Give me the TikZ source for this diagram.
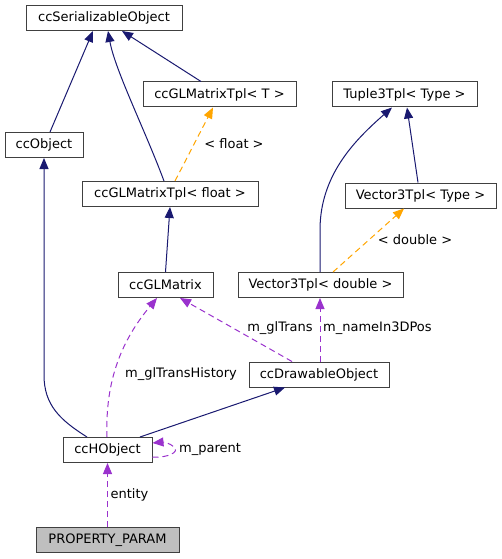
\documentclass[tikz,border=0pt]{standalone}
\usepackage{fontspec}
\setmainfont{DejaVu Sans}
\usetikzlibrary{arrows.meta,calc}
\definecolor{navy}{HTML}{191970}
\definecolor{orng}{HTML}{FFA500}
\definecolor{purp}{HTML}{9A32CD}
\definecolor{bord}{HTML}{404040}
\begin{document}
\begin{tikzpicture}[x=1pt,y=-1pt,
  font=\fontsize{13}{15}\selectfont,
  box/.style={draw=bord,line width=1pt,fill=white,inner sep=0pt,minimum height=25pt},
  inh/.style={draw=navy,line width=1pt,-{Triangle[length=11pt,width=9pt]}},
  tpl/.style={draw=orng,line width=1pt,dash pattern=on 6pt off 4pt,-{Triangle[length=11pt,width=9pt]}},
  use/.style={draw=purp,line width=1pt,dash pattern=on 6pt off 4pt,-{Triangle[length=11pt,width=9pt]}},
  lbl/.style={inner sep=0pt}]
\useasboundingbox (0,0) rectangle (501,559);
\node[box,minimum width=156pt] (ser) at (104,18) {ccSerializableObject};
\node[box,minimum width=153pt] (tplT) at (219.5,94.5) {ccGLMatrixTpl< T >};
\node[box,minimum width=145pt] (tuple) at (404.5,94.5) {Tuple3Tpl< Type >};
\node[box,minimum width=78pt] (obj) at (44,145) {ccObject};
\node[box,minimum width=176pt] (tplF) at (170,194) {ccGLMatrixTpl< float >};
\node[box,minimum width=151pt] (vecT) at (420.5,195.5) {Vector3Tpl< Type >};
\node[box,minimum width=95pt] (glm) at (165.5,285) {ccGLMatrix};
\node[box,minimum width=165pt] (vecD) at (320.5,285) {Vector3Tpl< double >};
\node[box,minimum width=140pt] (drw) at (319,374.5) {ccDrawableObject};
\node[box,minimum width=89pt] (hobj) at (107.5,450) {ccHObject};
\node[box,minimum width=143pt,fill={rgb,255:red,191;green,191;blue,191}] (prop) at (107.5,540) {PROPERTY\_PARAM};

% inheritance
\draw[inh] ($(obj.north)+(6,0)$) -- ($(ser.south)+(-11,0)$);
\draw[inh] ($(tplF.north)+(-6,0)$) .. controls (145,130) and (115,70) .. ($(ser.south)+(4,0)$);
\draw[inh] ($(tplT.north)+(-18.5,0)$) -- ($(ser.south)+(18,0)$);
\draw[inh] (glm.north) -- (tplF.south);
\draw[inh] ($(vecD.north)+(-0.5,0)$) -- (320,230) .. controls (320,175) and (355,140) .. ($(tuple.south)+(-12.5,0)$);
\draw[inh] ($(vecT.north)+(-2.5,0)$) -- ($(tuple.south)+(2.5,0)$);
\draw[inh] ($(hobj.north)+(32.5,0)$) -- ($(drw.south)+(-34,0)$);
\draw[inh] ($(hobj.north)+(-20.5,0)$) .. controls (60,420) and (44,405) .. (44,375) -- (obj.south);

% templates
\draw[tpl] ($(tplF.north)+(5,0)$) -- ($(tplT.south)+(-6.5,0)$);
\node[lbl] (lf) at (234,144) {< float >};
\draw[tpl] ($(vecD.north)+(12.5,0)$) -- ($(vecT.south)+(-16.5,0)$);
\node[lbl] (ld) at (415,240) {< double >};

% usage
\draw[use] ($(drw.north)+(-27,0)$) -- ($(glm.south)+(14.5,0)$);
\node[lbl] (l1) at (280,328) {m\_glTrans};
\draw[use] ($(drw.north)+(1,0)$) -- ($(vecD.south)+(-0.5,0)$);
\node[lbl,anchor=west] (l2) at (323,328) {m\_nameIn3DPos};
\draw[use] ($(hobj.north)+(-0.5,0)$) .. controls (105,380) and (122,340) .. ($(glm.south)+(-8.5,0)$);
\node[lbl] (l3) at (181,374) {m\_glTransHistory};
\draw[use] ($(hobj.east)+(0,7)$) .. controls (168,458) and (180,452) .. (174,447) .. controls (170,443) and (163,442) .. ($(hobj.east)+(0,-7)$);
\node[lbl] (l4) at (210,449) {m\_parent};
\draw[use] (prop.north) -- (hobj.south);
\node[lbl] (l5) at (129.5,495) {entity};
\end{tikzpicture}
\end{document}
